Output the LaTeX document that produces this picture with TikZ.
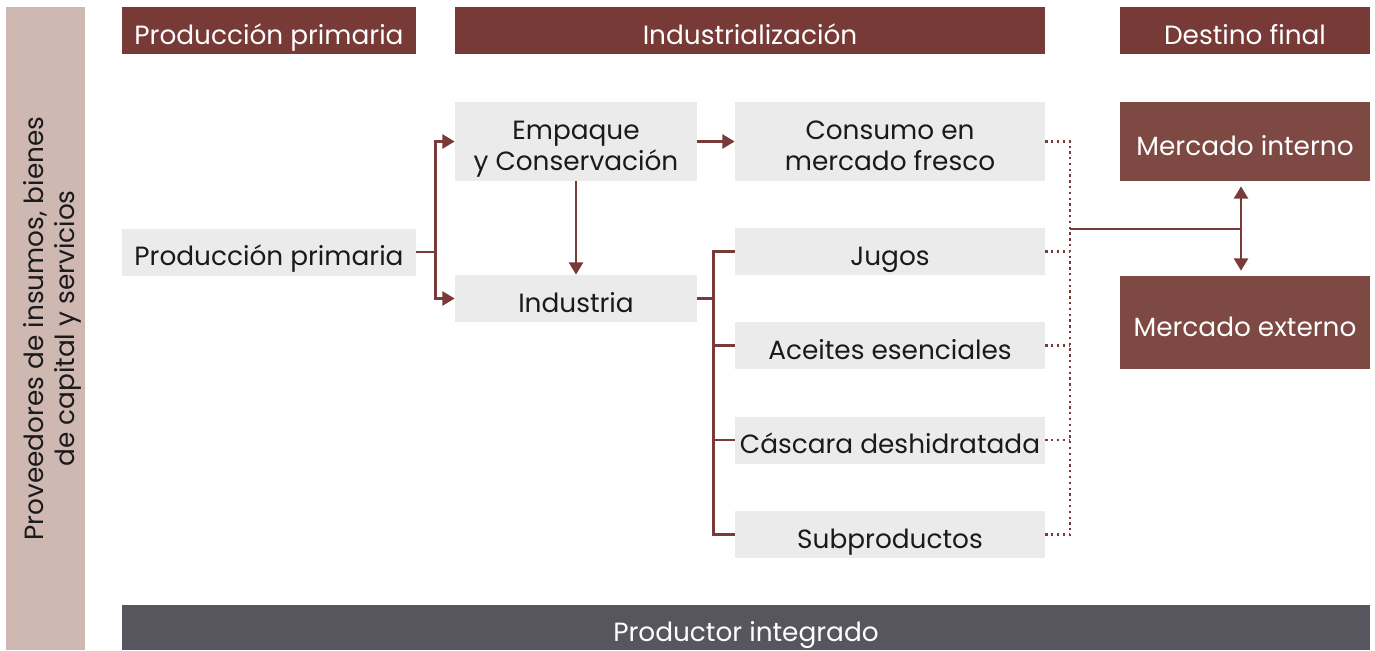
\documentclass[tikz,border=0pt]{standalone}
\usepackage{fontspec}
\setmainfont{Poppins}
\usetikzlibrary{arrows.meta,positioning}
\definecolor{vino}{HTML}{773A36}
\definecolor{vinoclaro}{HTML}{7E4843}
\definecolor{linea}{HTML}{7A3B38}
\definecolor{grisclaro}{HTML}{EBEBEB}
\definecolor{rosado}{HTML}{CFB8B2}
\definecolor{pizarra}{HTML}{57565F}
\definecolor{tinta}{HTML}{1A1A1A}
\tikzset{
  texto/.style={font=\fontsize{15}{18}\selectfont, inner sep=0pt, align=center,
    text height=15.5pt, text depth=0pt},
  doble/.style={text height=33.5pt},
  encabezado/.style={texto, fill=vino, text=white, minimum height=0.94cm},
  caja/.style={texto, fill=grisclaro, text=tinta, minimum width=6.2cm, minimum height=0.94cm},
  mercado/.style={texto, fill=vinoclaro, text=white, minimum width=5cm},
  conector/.style={draw=linea, line width=1.4pt},
  flecha/.style={conector, -{Triangle[length=7pt,width=8pt]}},
  punteado/.style={draw=linea, line width=1.3pt, dotted}
}
\begin{document}
\begin{tikzpicture}[x=0.02cm, y=-0.02cm]
 \useasboundingbox (0,0) rectangle (1375,650);
 \node[texto, doble, fill=rosado, text=tinta, minimum width=12.86cm, minimum height=1.58cm, rotate=90]
   (proveedores) at (45.5,328.5) {Proveedores de insumos, bienes\\de capital y servicios};
 \node[encabezado, minimum width=5.88cm] (hprim) at (269,30.5) {Producción primaria};
 \node[encabezado, minimum width=11.8cm] (hind) at (750,30.5) {Industrialización};
 \node[encabezado, minimum width=5cm] (hdest) at (1245,30.5) {Destino final};

 \node[caja, minimum width=5.88cm] (prim) at (269,252) {Producción primaria};
 \node[caja, doble, minimum width=4.84cm, minimum height=1.58cm] (empaque) at (576,141.5) {Empaque\\y Conservación};
 \node[caja, minimum width=4.84cm] (industria) at (576,298.5) {Industria};
 \node[caja, doble, minimum height=1.58cm] (fresco) at (890,141.5) {Consumo en\\mercado fresco};
 \node[caja] (jugos) at (890,251.5) {Jugos};
 \node[caja] (aceites) at (890,345.5) {Aceites esenciales};
 \node[caja] (cascara) at (890,440) {Cáscara deshidratada};
 \node[caja] (subprod) at (890,534.5) {Subproductos};

 \node[mercado, minimum height=1.58cm] (interno) at (1245,141.5) {Mercado interno};
 \node[mercado, minimum height=1.86cm] (externo) at (1245,322.5) {Mercado externo};

 \node[texto, fill=pizarra, text=white, minimum width=24.96cm, minimum height=0.9cm]
   (integrado) at (746,627.5) {Productor integrado};

 \coordinate (nprim) at ([xshift=0.38cm]prim.east);
 \draw[conector] (prim.east) -- (nprim);
 \draw[flecha] (nprim) |- (empaque.west);
 \draw[flecha] (nprim) |- (industria.west);
 \draw[flecha] (empaque.east) -- (fresco.west);
 \draw[flecha] (empaque.south) -- (industria.north);

 \coordinate (nind) at ([xshift=0.32cm]industria.east);
 \draw[conector] (industria.east) -- (nind);
 \draw[conector] (jugos.west) -| (nind) |- (subprod.west);
 \draw[conector] (nind |- aceites.west) -- (aceites.west);
 \draw[conector] (nind |- cascara.west) -- (cascara.west);

 \coordinate (ndest) at ([xshift=0.5cm]fresco.east);
 \draw[punteado] (fresco.east) -- (ndest) -- (ndest |- subprod.east) -- (subprod.east);
 \draw[punteado] (jugos.east) -- (jugos.east -| ndest);
 \draw[punteado] (aceites.east) -- (aceites.east -| ndest);
 \draw[punteado] (cascara.east) -- (cascara.east -| ndest);

 \coordinate (nmerc) at (ndest |- 0,229);
 \coordinate (nflecha) at ([xshift=-0.08cm]interno.south |- nmerc);
 \draw[conector] (nmerc) -- (nflecha);
 \draw[flecha] (nflecha) -- ([yshift=-0.1cm]nflecha |- interno.south);
 \draw[flecha] (nflecha) -- ([yshift=0.1cm]nflecha |- externo.north);
\end{tikzpicture}
\end{document}
